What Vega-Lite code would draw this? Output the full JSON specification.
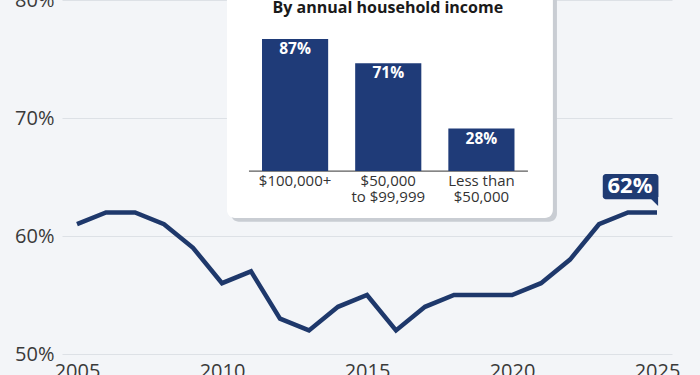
{
  "$schema": "https://vega.github.io/schema/vega-lite/v6.json",
  "width": 610,
  "height": 354,
  "autosize": {"type": "none"},
  "padding": {"left": 62, "top": 0, "right": 28, "bottom": 21},
  "background": "#f3f5f8",
  "config": {"view": {"stroke": null}, "font": "Open Sans"},
  "datasets": {
    "trend": [
      {"year": 2005, "share": 0.61}, {"year": 2006, "share": 0.62}, {"year": 2007, "share": 0.62},
      {"year": 2008, "share": 0.61}, {"year": 2009, "share": 0.59}, {"year": 2010, "share": 0.56},
      {"year": 2011, "share": 0.57}, {"year": 2012, "share": 0.53}, {"year": 2013, "share": 0.52},
      {"year": 2014, "share": 0.54}, {"year": 2015, "share": 0.55}, {"year": 2016, "share": 0.52},
      {"year": 2017, "share": 0.54}, {"year": 2018, "share": 0.55}, {"year": 2019, "share": 0.55},
      {"year": 2020, "share": 0.55}, {"year": 2021, "share": 0.56}, {"year": 2022, "share": 0.58},
      {"year": 2023, "share": 0.61}, {"year": 2024, "share": 0.62}, {"year": 2025, "share": 0.62}
    ],
    "income": [
      {"income": "$100,000+", "share": 0.87},
      {"income": "$50,000\nto $99,999", "share": 0.71},
      {"income": "Less than\n$50,000", "share": 0.28}
    ],
    "one": [{"n": 1}]
  },
  "layer": [
    {
      "layer": [
        {
          "data": {"name": "one"},
          "mark": {"type": "rect", "color": "#c9cdd3", "cornerRadius": 8},
          "encoding": {
            "x": {"datum": 2010.31, "type": "quantitative"}, "x2": {"datum": 2021.55},
            "y": {"datum": 0.85, "type": "quantitative"}, "y2": {"datum": 0.612}
          }
        },
        {
          "data": {"name": "one"},
          "mark": {"type": "rect", "color": "#ffffff", "cornerRadius": 8},
          "encoding": {
            "x": {"datum": 2010.17, "type": "quantitative"}, "x2": {"datum": 2021.41},
            "y": {"datum": 0.85, "type": "quantitative"}, "y2": {"datum": 0.6153}
          }
        },
        {
          "data": {"name": "one"},
          "mark": {"type": "text", "color": "#1a1a1a", "fontSize": 16, "fontWeight": "bold", "font": "Open Sans", "baseline": "alphabetic", "align": "center"},
          "encoding": {
            "x": {"datum": 2015.72, "type": "quantitative"},
            "y": {"datum": 0.7894, "type": "quantitative"},
            "text": {"value": "By annual household income"}
          }
        },
        {
          "data": {"name": "one"},
          "mark": {"type": "rule", "color": "#333333", "strokeWidth": 1},
          "encoding": {
            "x": {"datum": 2010.93, "type": "quantitative"}, "x2": {"datum": 2020.55},
            "y": {"datum": 0.655, "type": "quantitative"}
          }
        },
        {
          "data": {"name": "trend"},
          "mark": {"type": "line", "color": "#1e386b", "strokeWidth": 4.5, "strokeJoin": "miter"},
          "encoding": {
            "x": {
              "field": "year", "type": "quantitative",
              "scale": {"domain": [2005, 2025], "padding": 15, "nice": false, "zero": false},
              "axis": {
                "title": null, "values": [2005, 2010, 2015, 2020, 2025], "format": "d",
                "grid": false, "domain": false, "ticks": false, "labelPadding": 7,
                "labelFontSize": 20, "labelColor": "#3a3a3a", "labelFont": "Open Sans", "labelFlush": false
              }
            },
            "y": {
              "field": "share", "type": "quantitative",
              "scale": {"domain": [0.5, 0.8], "nice": false, "zero": false},
              "axis": {
                "title": null, "values": [0.5, 0.6, 0.7, 0.8], "format": ".0%",
                "grid": true, "gridColor": "#dde1e6", "gridWidth": 1, "domain": false, "ticks": false,
                "labelPadding": 8, "labelFontSize": 20, "labelColor": "#3a3a3a", "labelFont": "Open Sans"
              }
            }
          }
        },
        {
          "data": {"name": "one"},
          "mark": {"type": "rect", "color": "#1f3b73", "cornerRadius": 3},
          "encoding": {
            "x": {"datum": 2023.13, "type": "quantitative"}, "x2": {"datum": 2025.05},
            "y": {"datum": 0.6525, "type": "quantitative"}, "y2": {"datum": 0.6311}
          }
        },
        {
          "data": {"name": "one"},
          "mark": {"type": "point", "shape": "M-1,-1L1,-1L1,1Z", "filled": true, "color": "#1f3b73", "opacity": 1, "size": 64},
          "encoding": {
            "x": {"datum": 2024.9, "type": "quantitative"},
            "y": {"datum": 0.6288, "type": "quantitative"}
          }
        },
        {
          "data": {"name": "trend"},
          "transform": [{"filter": "datum.year == 2025"}],
          "mark": {"type": "text", "color": "#ffffff", "fontSize": 22, "fontWeight": "bold", "font": "Open Sans", "dx": -27, "dy": -26, "baseline": "middle", "align": "center"},
          "encoding": {
            "x": {"field": "year", "type": "quantitative"},
            "y": {"field": "share", "type": "quantitative"},
            "text": {"field": "share", "type": "quantitative", "format": ".0%"}
          }
        }
      ]
    },
    {
      "data": {"name": "income"},
      "encoding": {
        "x": {
          "field": "income", "type": "nominal", "sort": null,
          "scale": {"range": [186.5, 466], "paddingInner": 0.29, "paddingOuter": 0.145},
          "axis": null
        },
        "y": {
          "field": "share", "type": "quantitative",
          "scale": {"domain": [0, 1], "range": [171, 19.3], "nice": false},
          "axis": null
        }
      },
      "layer": [
        {"mark": {"type": "bar", "color": "#1f3b78"}},
        {
          "mark": {"type": "text", "color": "#ffffff", "fontSize": 15.5, "fontWeight": "bold", "font": "Open Sans", "dy": 10, "baseline": "middle"},
          "encoding": {"text": {"field": "share", "type": "quantitative", "format": ".0%"}}
        },
        {
          "mark": {"type": "text", "color": "#333333", "fontSize": 15, "font": "Open Sans", "baseline": "top", "dy": 3, "lineBreak": "\n", "lineHeight": 15.5},
          "encoding": {"y": {"datum": 0}, "text": {"field": "income", "type": "nominal"}}
        }
      ]
    }
  ],
  "resolve": {"scale": {"x": "independent", "y": "independent"}}
}
